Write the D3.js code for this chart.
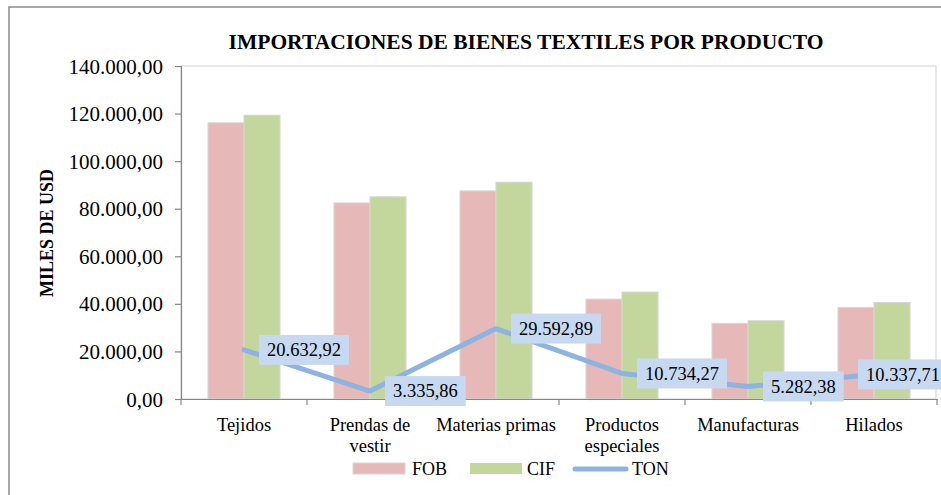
<!DOCTYPE html>
<html>
<head>
<meta charset="utf-8">
<script src="https://cdn.jsdelivr.net/npm/d3@7"></script>
<style>
  html, body { margin: 0; padding: 0; background: #fff; }
  svg { display: block; font-family: "Liberation Serif", "Times New Roman", serif; }
</style>
</head>
<body>
<svg id="chart" width="941" height="495"></svg>
<script>
// ---- data ----
const categories = ["Tejidos", "Prendas de vestir", "Materias primas", "Productos especiales", "Manufacturas", "Hilados"];
const categoryLabels = [["Tejidos"], ["Prendas de", "vestir"], ["Materias primas"], ["Productos", "especiales"], ["Manufacturas"], ["Hilados"]];
const fobValues = [116100, 82450, 87500, 42000, 31800, 38500];
const cifValues = [119300, 85000, 91150, 44950, 32900, 40600];
const tonValues = [20632.92, 3335.86, 29592.89, 10734.27, 5282.38, 10337.71];
const seriesNames = ["FOB", "CIF", "TON"];
const yTicks = [0, 20000, 40000, 60000, 80000, 100000, 120000, 140000];
const titleText = "IMPORTACIONES DE BIENES TEXTILES POR PRODUCTO";
const yTitle = "MILES DE USD";

// ---- setup ----
const svg = d3.select("#chart");
const colors = { FOB: "#e6b9b8", CIF: "#c3d69b", TON: "#8db3e2" };
const labelFill = "#c6d9f1";
const axisColor = "#868686";

const locale = d3.formatLocale({ decimal: ",", thousands: ".", grouping: [3], currency: ["", ""] });
const fmt = locale.format(",.2f");

const pLeft = 181, pRight = 937, pTop = 66, pBottom = 399;
const chartRight = 948; // right edge of the chart area

const x = d3.scaleBand().domain(categories).range([pLeft, pRight]).padding(0);
const x1 = d3.scaleBand().domain(["FOB", "CIF"]).range([0, x.bandwidth()]).paddingInner(0).paddingOuter(0.75);
const y = d3.scaleLinear().domain([0, 140000]).range([pBottom, pTop]);

// frame
svg.append("path").attr("d", "M9,495 V7 H941").attr("fill", "none").attr("stroke", "#8c8c8c").attr("stroke-width", 1.5);

// plot border
svg.append("rect").attr("x", pLeft).attr("y", pTop).attr("width", pRight - 1 - pLeft).attr("height", pBottom - pTop)
  .attr("fill", "none").attr("stroke", "#d9d9d9").attr("stroke-width", 1.2);

// title
svg.append("text").attr("x", 526).attr("y", 49).attr("text-anchor", "middle")
  .attr("font-weight", "bold").attr("font-size", 21.5).text(titleText);

// y axis title
svg.append("text").attr("transform", "translate(53,233) rotate(-90)").attr("text-anchor", "middle")
  .attr("font-weight", "bold").attr("font-size", 18).text(yTitle);

// bars
const barData = [];
categories.forEach((c, i) => {
  barData.push({ cat: c, key: "FOB", value: fobValues[i] });
  barData.push({ cat: c, key: "CIF", value: cifValues[i] });
});
svg.append("g").selectAll("rect").data(barData).join("rect")
  .attr("x", d => x(d.cat) + x1(d.key))
  .attr("y", d => y(d.value))
  .attr("width", x1.bandwidth())
  .attr("height", d => y(0) - y(d.value))
  .attr("fill", d => colors[d.key])
  .attr("stroke", "#d6d6d6").attr("stroke-width", 1);

// y axis
const yAxis = d3.axisLeft(y).tickValues(yTicks).tickFormat(fmt).tickSize(6).tickPadding(12);
const gy = svg.append("g").attr("transform", `translate(${pLeft},0)`).call(yAxis);
gy.select(".domain").attr("stroke", axisColor).attr("stroke-width", 1.2);
gy.selectAll(".tick line").attr("stroke", axisColor).attr("stroke-width", 1.2);
gy.selectAll(".tick text").attr("font-family", "Liberation Serif").attr("font-size", 21).attr("fill", "#000").attr("dy", "0.34em");

// x axis
const xAxis = d3.axisBottom(x).tickSize(0).tickFormat("");
const gx = svg.append("g").attr("transform", `translate(0,${pBottom})`).call(xAxis);
gx.select(".domain").attr("stroke", axisColor).attr("stroke-width", 1.2);
gx.selectAll(".tick").remove();
const boundaries = categories.map(c => x(c)).concat([x(categories[categories.length - 1]) + x.bandwidth()]);
gx.selectAll("line.b").data(boundaries).join("line").attr("class", "b")
  .attr("x1", d => d).attr("x2", d => d).attr("y1", 0).attr("y2", 6)
  .attr("stroke", axisColor).attr("stroke-width", 1.2);

// category labels
const cl = svg.append("g").attr("font-size", 18.5).attr("text-anchor", "middle");
categories.forEach((c, i) => {
  const t = cl.append("text").attr("x", x(c) + x.bandwidth() / 2).attr("y", 431);
  categoryLabels[i].forEach((ln, j) => {
    t.append("tspan").attr("x", x(c) + x.bandwidth() / 2).attr("dy", j === 0 ? 0 : 21).text(ln);
  });
});

// TON line
const pts = categories.map((c, i) => ({ cat: c, value: tonValues[i], px: x(c) + x.bandwidth() / 2, py: y(tonValues[i]) }));
const line = d3.line().x(d => d.px).y(d => d.py);
svg.append("path").datum(pts).attr("d", line).attr("fill", "none")
  .attr("stroke", colors.TON).attr("stroke-width", 5).attr("stroke-linejoin", "round").attr("stroke-linecap", "round");

// data labels (kept inside chart area like the original)
const lg = svg.append("g");
pts.forEach(p => {
  const g = lg.append("g");
  const r = g.append("rect");
  const t = g.append("text").attr("font-size", 18.5).attr("y", p.py).attr("dy", "0.34em").text(fmt(p.value));
  const w = t.node().getComputedTextLength();
  const bw = w + 16;
  const bx = Math.min(p.px + 15, chartRight - bw);
  t.attr("x", bx + 8);
  r.attr("x", bx).attr("y", p.py - 15).attr("width", bw).attr("height", 30).attr("fill", labelFill);
});

// legend
const leg = svg.append("g").attr("font-size", 18);
leg.append("rect").attr("x", 353).attr("y", 463).attr("width", 52).attr("height", 11).attr("fill", colors.FOB).attr("stroke", "#d6d6d6");
leg.append("text").attr("x", 412).attr("y", 475).text(seriesNames[0]);
leg.append("rect").attr("x", 470).attr("y", 463).attr("width", 52).attr("height", 11).attr("fill", colors.CIF);
leg.append("text").attr("x", 527).attr("y", 475).text(seriesNames[1]);
leg.append("line").attr("x1", 575).attr("x2", 626).attr("y1", 469).attr("y2", 469)
  .attr("stroke", colors.TON).attr("stroke-width", 5).attr("stroke-linecap", "round");
leg.append("text").attr("x", 632).attr("y", 475).text(seriesNames[2]);
</script>
</body>
</html>
